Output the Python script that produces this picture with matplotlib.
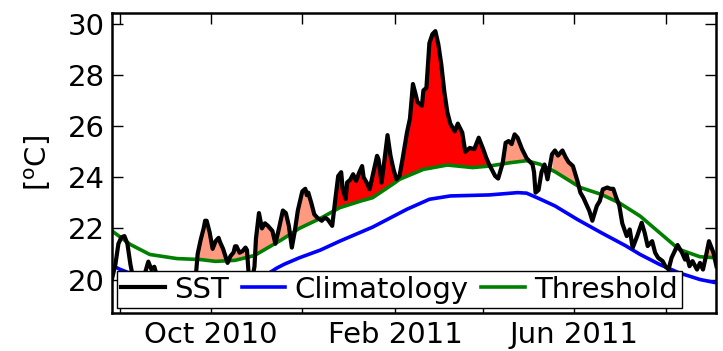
import numpy as np
import pandas as pd
import matplotlib
matplotlib.use('Agg')
import matplotlib.pyplot as plt
import matplotlib.dates as mdates
from matplotlib.ticker import FuncFormatter

start = pd.Timestamp('2010-07-26')

# daily SST record (days since start, degC)
sst_day = [0, 1, 3, 5, 7, 9, 11, 13, 15, 18, 21, 23, 25, 27, 29, 31, 34, 38, 43, 47,
           51, 55, 57, 58, 60, 62, 63, 64, 66, 68, 70, 72, 73, 75, 78, 80, 82, 83, 84, 86,
           88, 90, 91, 92, 94, 96, 97, 99, 101, 103, 105, 108, 110, 112, 115, 117, 119, 121, 123, 125,
           128, 130, 131, 132, 134, 136, 138, 141, 143, 145, 148, 150, 152, 154, 155, 157, 158, 160, 162, 164,
           166, 168, 169, 171, 173, 175, 178, 179, 181, 183, 185, 187, 189, 191, 193, 195, 198, 200, 202, 204,
           205, 208, 209, 211, 213, 215, 217, 219, 221, 223, 225, 227, 230, 232, 235, 237, 240, 243, 246, 249,
           251, 253, 257, 259, 262, 264, 266, 268, 270, 272, 275, 278, 282, 283, 284, 286, 288, 290, 292, 295,
           297, 299, 302, 304, 306, 309, 312, 314, 316, 318, 320, 322, 325, 327, 329, 332, 334, 336, 338, 340,
           342, 345, 347, 349, 352, 355, 357, 359, 362, 364, 366, 369, 371, 373, 375, 377, 379, 382, 384, 385,
           387, 389, 392, 394, 396, 398, 400, 403, 405]
sst = [19.9, 20.1, 20.6, 21.4, 21.65, 21.7, 21.4, 20.6, 20.0, 19.8, 19.9, 20.3, 20.7, 20.4, 20.5, 20.1, 19.8, 19.6, 19.7, 19.9,
       19.8, 19.9, 20.3, 21.0, 21.55, 22.0, 22.3, 22.3, 21.85, 21.2, 21.5, 21.63, 21.46, 21.2, 20.65, 20.92, 21.06, 21.3, 21.3, 21.05,
       21.11, 21.25, 21.15, 20.3, 19.9, 20.5, 21.6, 22.6, 22.0, 22.2, 22.1, 21.9, 21.4, 21.9, 22.7, 22.6, 22.1, 21.25, 21.9, 22.7,
       23.45, 23.55, 23.3, 23.4, 23.0, 22.55, 22.42, 22.3, 22.42, 22.35, 22.1, 23.1, 24.05, 24.2, 23.55, 23.15, 23.8, 23.9, 24.12, 23.86,
       24.18, 24.44, 24.0, 23.8, 23.53, 24.05, 24.84, 24.7, 23.79, 24.7, 25.65, 24.84, 24.31, 23.92, 24.05, 24.7, 25.75, 26.3, 27.65, 27.2,
       26.95, 26.8, 27.4, 27.5, 29.25, 29.6, 29.72, 29.2, 28.4, 27.35, 26.55, 26.1, 25.8, 26.1, 25.75, 25.0, 25.15, 25.1, 25.55, 25.1,
       24.77, 24.5, 24.05, 23.95, 24.55, 25.35, 25.42, 25.3, 25.68, 25.55, 25.1, 24.75, 24.5, 24.2, 23.4, 23.5, 24.2, 24.5, 23.92, 24.9,
       25.05, 24.85, 25.05, 24.8, 24.6, 24.44, 23.86, 23.4, 23.2, 22.94, 22.68, 22.3, 22.88, 23.07, 23.53, 23.6, 23.55, 23.55, 23.2, 22.9,
       22.2, 21.7, 21.96, 21.24, 21.7, 22.22, 21.83, 21.31, 21.5, 21.05, 20.85, 20.72, 20.5, 20.4, 20.85, 21.1, 21.35, 21.05, 20.78, 20.98,
       20.52, 20.72, 20.39, 20.65, 20.39, 20.92, 21.5, 21.05, 20.52]

# seasonal threshold
thresh_day = [0, 13, 26, 44, 60, 70, 83, 96, 114, 126, 140, 153, 167, 175, 190, 193,
              209, 225, 242, 253, 267, 278, 287, 297, 314, 328, 340, 354, 367, 380, 394, 405]
thresh = [21.93, 21.37, 20.98, 20.82, 20.78, 20.71, 20.75, 20.94, 21.55, 22.0, 22.39, 22.81, 23.07, 23.2, 23.79, 23.92,
          24.31, 24.48, 24.38, 24.44, 24.57, 24.65, 24.51, 24.22, 23.6, 23.33, 23.0, 22.48, 21.83, 21.18, 20.89, 20.85]

# seasonal climatology
clim_day = [0, 6, 19, 33, 53, 73, 90, 103, 111, 116, 126, 140, 153, 175, 198,
            213, 227, 253, 272, 278, 287, 297, 312, 328, 344, 354, 367, 380, 394, 405]
clim = [20.57, 20.4, 20.1, 19.85, 19.72, 19.7, 19.85, 20.15, 20.45, 20.6, 20.85, 21.15, 21.5, 22.05, 22.75,
        23.14, 23.27, 23.31, 23.4, 23.38, 23.15, 22.88, 22.35, 21.83, 21.33, 20.98, 20.59, 20.26, 20.0, 19.87]

# detected events (days since start); the big one gets red
event_start = [58, 96, 260, 293, 326, 397]
event_end = [92, 140, 280, 312, 339, 405]
main_start, main_end = 150, 253

days = lambda d: start + pd.to_timedelta(np.asarray(d, dtype=float), unit='D')
d = np.array(sst_day)
s = np.array(sst)
th_on_sst = np.interp(d, thresh_day, thresh)
t_sst = days(sst_day)

fig = plt.figure(figsize=(7.23, 3.51), dpi=100)
ax = fig.add_axes([0.1549, 0.1083, 0.8354, 0.8547])

for t1, t2 in zip(event_start, event_end):
    m = (d >= t1) & (d <= t2)
    ax.fill_between(t_sst[m], s[m], th_on_sst[m], where=s[m] >= th_on_sst[m],
                    interpolate=True, color=(1, 0.6, 0.5), lw=0)
m = (d >= main_start) & (d <= main_end)
ax.fill_between(t_sst[m], s[m], th_on_sst[m], where=s[m] >= th_on_sst[m],
                interpolate=True, color='r', lw=0)

l_clim, = ax.plot(days(clim_day), clim, 'b-', lw=2.6)
l_thr, = ax.plot(days(thresh_day), thresh, '-', color=(0, 0.5, 0), lw=2.6)
l_sst, = ax.plot(t_sst, sst, 'k-', lw=3)

ax.set_xlim(start + pd.Timedelta(days=0.7), start + pd.Timedelta(days=404.7))
ax.set_ylim(18.69, 30.43)
ax.set_yticks([20, 22, 24, 26, 28, 30])

ax.xaxis.set_major_locator(mdates.MonthLocator(bymonth=[2, 4, 6, 8, 10, 12]))


def month_label(x, pos):
    dt = mdates.num2date(x)
    return dt.strftime('%b %Y') if dt.month in (2, 6, 10) else ''


ax.xaxis.set_major_formatter(FuncFormatter(month_label))
ax.tick_params(direction='in', length=8, width=1, top=True, right=True, labelsize=21)
ax.tick_params(axis='x', pad=6)
ax.tick_params(axis='y', pad=5)
for sp in ax.spines.values():
    sp.set_linewidth(1.8)

ax.set_ylabel(r'[$^\mathrm{o}$C]', fontsize=21, labelpad=11)

leg = ax.legend([l_sst, l_clim, l_thr], ['SST', 'Climatology', 'Threshold'],
                loc='lower left', bbox_to_anchor=(0.008, 0.017), ncol=3, fontsize=21,
                fancybox=False, framealpha=1, borderpad=0.15, borderaxespad=0,
                handlelength=1.5, handletextpad=0.3, columnspacing=0.45)
leg.get_frame().set_edgecolor('k')
leg.get_frame().set_linewidth(1.0)

fig.savefig('out.png', dpi=100)
